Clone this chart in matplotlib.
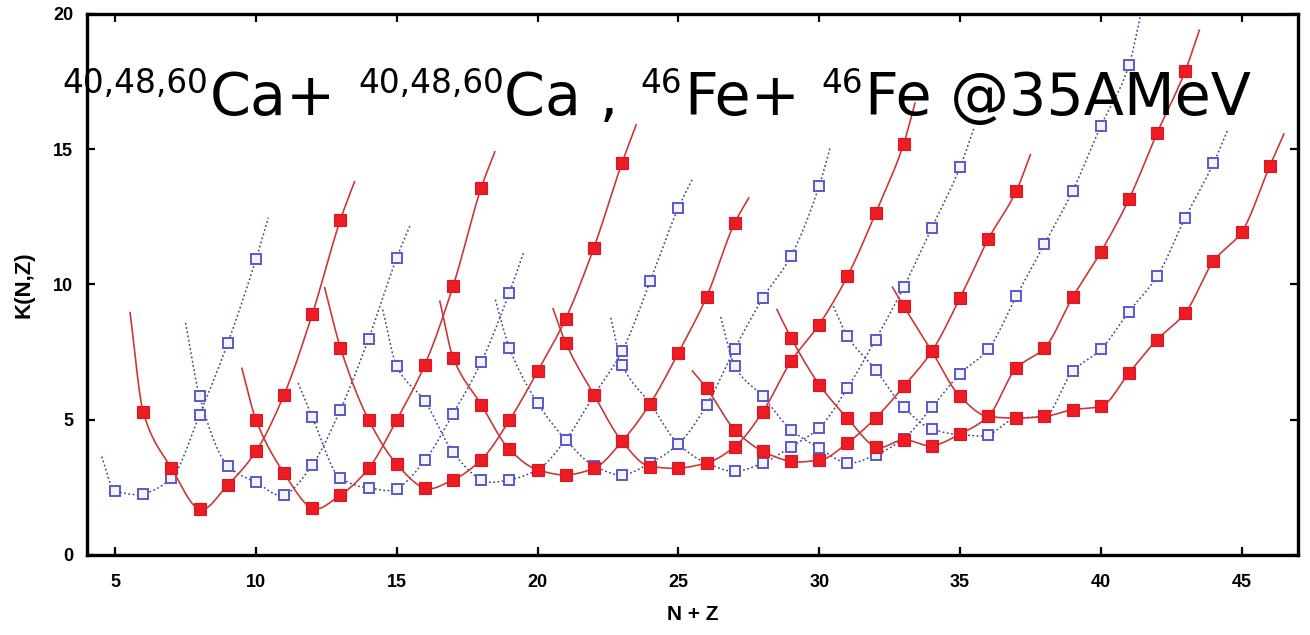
import numpy as np
import matplotlib
matplotlib.use("Agg")
import matplotlib.pyplot as plt

# K(N,Z) per chain; x = N+Z, first x of each chain + values at consecutive N+Z
red_first = [6, 10, 13, 17, 21, 26, 29, 33]
red_k = [
    [5.27, 3.21, 1.69, 2.59, 3.83, 5.93, 8.90, 12.40],
    [5.00, 3.02, 1.73, 2.22, 3.20, 5.00, 7.04, 9.94, 13.58],
    [7.66, 5.00, 3.36, 2.47, 2.78, 3.52, 4.98, 6.79, 8.74, 11.36, 14.50],
    [7.30, 5.56, 3.90, 3.15, 2.96, 3.20, 4.20, 5.60, 7.47, 9.54, 12.28],
    [7.84, 5.93, 4.20, 3.27, 3.21, 3.40, 4.00, 5.30, 7.16, 8.52, 10.30, 12.63, 15.20],
    [6.17, 4.63, 3.83, 3.46, 3.50, 4.14, 5.06, 6.23, 7.53, 9.50, 11.67, 13.46],
    [8.03, 6.30, 5.06, 4.00, 4.26, 4.04, 4.47, 5.12, 6.91, 7.65, 9.53, 11.20, 13.15, 15.60, 17.90],
    [9.20, 7.53, 5.86, 5.12, 5.06, 5.12, 5.37, 5.49, 6.73, 7.96, 8.95, 10.86, 11.94, 14.38],
]
# where the fitted curves run out beyond the computed points
red_line_start = [(5.53, 8.96), (9.50, 6.90), (12.44, 9.88), (16.53, 9.38),
                  (20.55, 9.10), (25.50, 6.80), (28.50, 9.07), (32.60, 9.90)]
red_line_end = [(13.50, 13.80), (18.48, 14.90), (23.50, 15.90), (27.50, 13.20),
                (33.40, 16.70), (37.50, 14.80), (43.50, 19.40), (46.50, 15.56)]

blue_first = [5, 8, 12, 15, 19, 23, 27, 31]
blue_k = [
    [2.35, 2.26, 2.84, 5.19, 7.84, 10.93],
    [5.86, 3.30, 2.68, 2.22, 3.33, 5.37, 7.99, 10.99],
    [5.10, 2.84, 2.48, 2.45, 3.50, 5.22, 7.13, 9.70],
    [6.97, 5.68, 3.80, 2.78, 2.78, 3.15, 4.26, 5.90, 7.53, 10.12, 12.84],
    [7.65, 5.62, 4.26, 3.30, 2.96, 3.40, 4.10, 5.53, 7.62, 9.50, 11.05, 13.64],
    [7.04, 5.60, 4.10, 3.40, 3.09, 3.40, 4.00, 4.70, 6.17, 7.96, 9.90, 12.10, 14.33],
    [6.97, 5.86, 4.63, 3.95, 3.40, 3.70, 4.30, 5.46, 6.70, 7.60, 9.57, 11.50, 13.46, 15.86, 18.10],
    [8.09, 6.85, 5.46, 4.66, 4.45, 4.44, 5.06, 5.12, 6.79, 7.60, 9.00, 10.30, 12.47, 14.48],
]
blue_line_start = [(4.52, 3.64), (7.50, 8.58), (11.50, 6.36), (14.50, 9.07),
                   (18.50, 9.44), (22.60, 8.77), (26.50, 8.80), (30.50, 9.20)]
blue_line_end = [(10.44, 12.47), (15.46, 12.16), (19.50, 11.17), (25.50, 13.90),
                 (30.40, 15.10), (35.50, 15.80), (41.40, 19.90), (44.50, 15.70)]

x_ticks = [5, 10, 15, 20, 25, 30, 35, 40, 45]
y_ticks = [0, 5, 10, 15, 20]

LABEL_FONT = ["Liberation Sans Narrow", "Liberation Sans"]


def slopes(xs, ys):
    # centred slopes; harmonic mean where both sides climb/fall together so
    # steep ends don't throw a shoulder into the next interval
    d = np.diff(ys) / np.diff(xs)
    h = np.diff(xs)
    m = np.empty_like(ys)
    m[0], m[-1] = d[0], d[-1]
    for i in range(1, len(xs) - 1):
        d1, d2 = d[i - 1], d[i]
        if d1 * d2 > 0:
            w1, w2 = 2 * h[i] + h[i - 1], h[i] + 2 * h[i - 1]
            m[i] = (w1 + w2) / (w1 / d1 + w2 / d2)
        else:
            m[i] = (h[i] * d1 + h[i - 1] * d2) / (h[i - 1] + h[i])
    return m


def smooth(xs, ys, n=24):
    """cubic hermite through the points"""
    xs = np.asarray(xs, float)
    ys = np.asarray(ys, float)
    m = slopes(xs, ys)
    out_x, out_y = [], []
    t = np.linspace(0, 1, n, endpoint=False)
    h00 = 2 * t**3 - 3 * t**2 + 1
    h10 = t**3 - 2 * t**2 + t
    h01 = -2 * t**3 + 3 * t**2
    h11 = t**3 - t**2
    for i in range(len(xs) - 1):
        h = xs[i + 1] - xs[i]
        out_x.append(xs[i] + t * h)
        out_y.append(h00 * ys[i] + h10 * h * m[i] + h01 * ys[i + 1] + h11 * h * m[i + 1])
    out_x.append([xs[-1]])
    out_y.append([ys[-1]])
    return np.concatenate(out_x), np.concatenate(out_y)


def draw_chain(ax, first, vals, start, end, style):
    x = np.arange(first, first + len(vals))
    lx = [start[0]] + list(x) + [end[0]]
    ly = [start[1]] + list(vals) + [end[1]]
    sx, sy = smooth(lx, ly)
    ax.plot(sx, sy, color=style["lc"], lw=style["lw"], ls=style["ls"],
            zorder=style["z"])
    ax.plot(x, vals, ls="none", marker="s", ms=style["ms"],
            mfc=style["mfc"], mec=style["mec"], mew=style["mew"],
            zorder=style["z"] + 1)


fig = plt.figure(figsize=(13.1, 6.35), dpi=100)
ax = fig.add_axes([0.0664, 0.126, 0.9244, 0.852])

blue_style = dict(lc="#45458a", lw=1.1, ls=(0, (1.2, 1.6)), ms=7.8,
                  mfc="#f4f4ff", mec="#5a5ac8", mew=1.4, z=2)
red_style = dict(lc="#c83a3a", lw=1.2, ls="-", ms=8,
                 mfc="#ec1c24", mec="#e0141c", mew=0.8, z=4)

for i in range(len(blue_k)):
    draw_chain(ax, blue_first[i], blue_k[i], blue_line_start[i], blue_line_end[i], blue_style)
for i in range(len(red_k)):
    draw_chain(ax, red_first[i], red_k[i], red_line_start[i], red_line_end[i], red_style)

ax.set_xlim(4, 47)
ax.set_ylim(0, 20)
ax.set_xticks(x_ticks)
ax.set_yticks(y_ticks)
ax.tick_params(direction="in", length=6, width=1.6, top=True, right=True,
               labelsize=13)
ax.tick_params(axis="x", pad=14)
ax.tick_params(axis="y", pad=10)
for lab in ax.get_xticklabels() + ax.get_yticklabels():
    lab.set_fontweight("bold")
    lab.set_family(LABEL_FONT)
for sp in ax.spines.values():
    sp.set_linewidth(2.4)

ax.set_xlabel("N + Z", fontsize=15, fontweight="bold", family=LABEL_FONT, labelpad=10)
ax.set_ylabel("K(N,Z)", fontsize=16, fontweight="bold", family="Liberation Sans", labelpad=13)

# reaction label: big text with smaller raised mass numbers, laid out piece by piece
pieces = [("40,48,60", True, 0), ("Ca+", False, 2), ("40,48,60", True, 22),
          ("Ca ,", False, 0), ("46", True, 22), ("Fe+", False, 3),
          ("46", True, 21), ("Fe @35AMeV", False, 2)]
renderer = fig.canvas.get_renderer()
x_px = 62
base_px = 635 - 115
for txt, sup, gap in pieces:
    x_px += gap
    size = 23.5 if sup else 42.3
    y = base_px + (22 if sup else 0)
    t = fig.text(x_px / 1310, y / 635, txt, fontsize=size, family="DejaVu Sans",
                 va="baseline", ha="left", zorder=10)
    x_px += t.get_window_extent(renderer).width

fig.savefig("out.png", dpi=100)
